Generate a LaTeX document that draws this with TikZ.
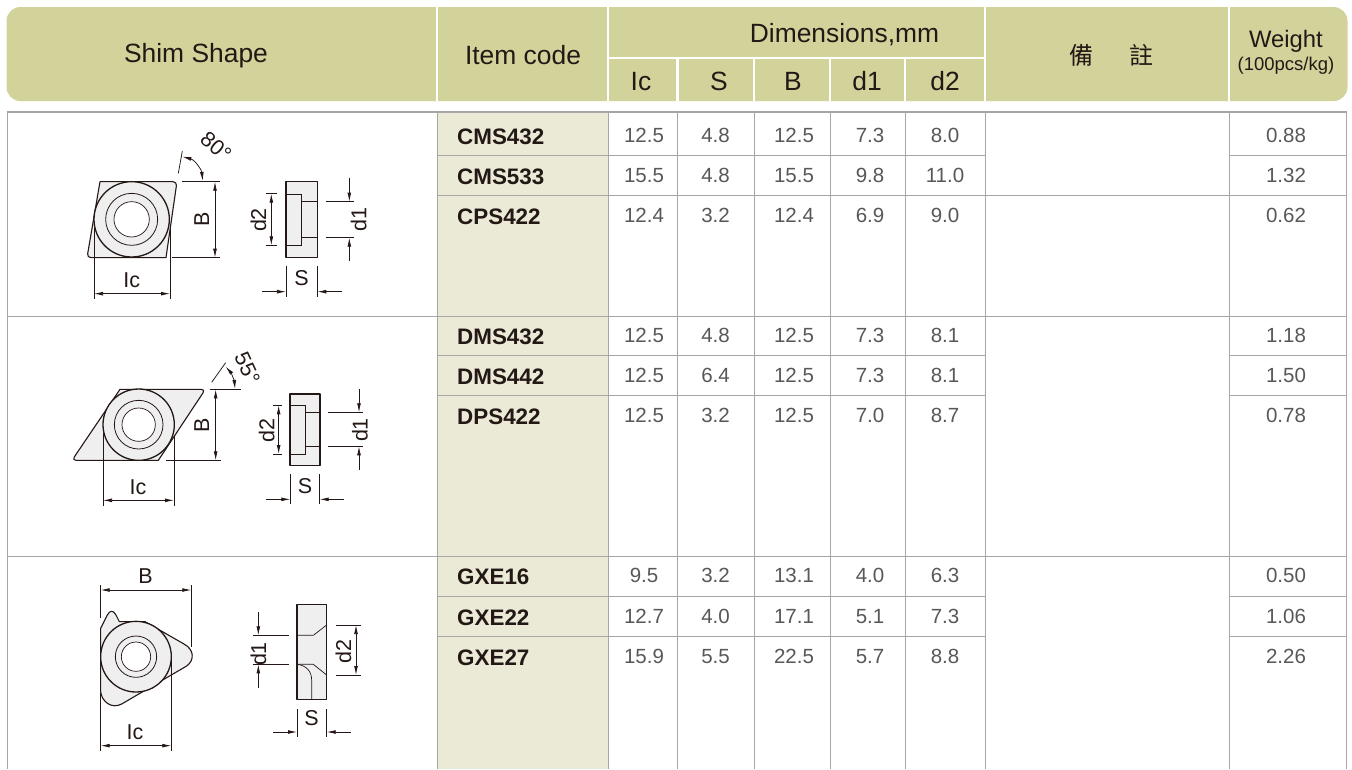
\documentclass[tikz,border=0pt]{standalone}
\usepackage{fontspec}
\setmainfont{Liberation Sans}
\newfontfamily\cjk{Noto Sans CJK TC}
\usetikzlibrary{arrows.meta}
\definecolor{headfill}{HTML}{D2D29B}
\definecolor{codefill}{HTML}{EAEAD6}
\definecolor{gridgray}{HTML}{A6A6A6}
\definecolor{inkdark}{HTML}{231815}
\definecolor{datagray}{HTML}{595757}
\definecolor{partfill}{HTML}{EFEFEF}
\tikzset{
  sz/.style={font=\fontsize{#1pt}{#1pt}\selectfont},
  headtext/.style={sz=26.4,text=inkdark,anchor=base,inner sep=0pt},
  codetext/.style={sz=22.4,text=inkdark,anchor=base west,inner sep=0pt},
  datatext/.style={sz=20.5,text=datagray,anchor=base,inner sep=0pt},
  dimtext/.style={sz=21.5,text=inkdark,inner sep=0pt},
  gridline/.style={draw=gridgray,line width=1pt},
  sep/.style={draw=white,line width=2.4pt},
  zoomed/.style 2 args={shift={(#1,#2)},x=0.33333pt,y=-0.33333pt},
  part/.style={draw=inkdark,fill=partfill,line width=1.1pt,line join=round},
  thin part/.style={draw=inkdark,line width=0.7pt},
  ext/.style={draw=inkdark,line width=0.75pt},
  dima/.style={draw=inkdark,line width=0.75pt,{Latex[length=9pt,width=3.8pt]}-{Latex[length=9pt,width=3.8pt]}},
  dimo/.style={draw=inkdark,line width=0.75pt,-{Latex[length=9pt,width=3.8pt]}},
}
\newcommand{\insertdisc}[4]{%
  \fill[partfill] (#1,#2) circle[radius=#3];
  \draw[inkdark,line width=1.3pt] (#1,#2) circle[radius=#3];
  \draw[thin part,line width=0.8pt] (#1,#2) circle[radius=#4];
}
\begin{document}
\begin{tikzpicture}[x=1pt,y=-1pt]
\useasboundingbox (0,0) rectangle (1352,769);
\fill[white] (0,0) rectangle (1352,769);
% header band
\fill[headfill,rounded corners=14pt] (6.5,7) rectangle (1347.5,101);
\foreach \sx in {437,608,985,1229} \draw[sep] (\sx,7) -- (\sx,101);
\draw[sep] (608,58) -- (985,58);
\foreach \sx in {677.5,754,830,905} \draw[sep] (\sx,58) -- (\sx,101);
\node[headtext] (hshape) at (196,62) {Shim Shape};
\node[headtext] (hitem) at (523,64) {Item code};
\node[headtext] (hdim) at (844.5,42) {Dimensions,mm};
\node[headtext] (hic) at (641,90) {Ic};
\node[headtext] (hs) at (719,90) {S};
\node[headtext] (hb) at (793,90) {B};
\node[headtext] (hda) at (867,90) {d1};
\node[headtext] (hdb) at (945,90) {d2};
\node[sz=24,text=inkdark,inner sep=0pt] (hnotea) at (1081,55) {\cjk 備};
\node[sz=24,text=inkdark,inner sep=0pt] (hnoteb) at (1141,55) {\cjk 註};
\node[sz=23.8,text=inkdark,anchor=base,inner sep=0pt] (hweight) at (1286,47) {Weight};
\node[sz=18.5,text=inkdark,anchor=base,inner sep=0pt] (hpcs) at (1286,70) {(100pcs/kg)};
% table body
\fill[codefill] (437.5,112) rectangle (608.5,769);
\draw[gridline,line width=1.4pt] (7,112) -- (1346.5,112);
\foreach \sx in {7,437.5,608.5,677.5,754,830,905,985.5,1229,1346.5}
  \draw[gridline] (\sx,112) -- (\sx,769);
\foreach \sy in {316,556} \draw[gridline] (7,\sy) -- (1346.5,\sy);
\draw[gridline] (437.5,195.5) -- (1346.5,195.5);
\foreach \sy in {155.5,355.5,395.5,596,636} {
  \draw[gridline] (437.5,\sy) -- (985.5,\sy);
  \draw[gridline] (1229,\sy) -- (1346.5,\sy);
}
\foreach \ry/\rc/\va/\vb/\vc/\vd/\ve/\vw in {
  142/CMS432/12.5/4.8/12.5/7.3/8.0/0.88,
  182/CMS533/15.5/4.8/15.5/9.8/11.0/1.32,
  222/CPS422/12.4/3.2/12.4/6.9/9.0/0.62,
  342/DMS432/12.5/4.8/12.5/7.3/8.1/1.18,
  382/DMS442/12.5/6.4/12.5/7.3/8.1/1.50,
  422/DPS422/12.5/3.2/12.5/7.0/8.7/0.78,
  582/GXE16/9.5/3.2/13.1/4.0/6.3/0.50,
  623/GXE22/12.7/4.0/17.1/5.1/7.3/1.06,
  663/GXE27/15.9/5.5/22.5/5.7/8.8/2.26}
{
  \node[codetext] (code\rc) at (457,\ry+2) {\textbf{\rc}};
  \node[datatext] (ic\rc) at (644,\ry) {\va};
  \node[datatext] (s\rc) at (715.5,\ry) {\vb};
  \node[datatext] (b\rc) at (794,\ry) {\vc};
  \node[datatext] (da\rc) at (870,\ry) {\vd};
  \node[datatext] (db\rc) at (945,\ry) {\ve};
  \node[datatext] (w\rc) at (1286,\ry) {\vw};
}
% shape 1
\begin{scope}[zoomed={60}{115}]
  \draw[part] (120,200) [rounded corners=4pt] -- (351,200) [sharp corners] -- (318,428) [rounded corners=4pt] -- (81,428) [sharp corners] -- cycle;
  \insertdisc{215}{313}{113}{78}
  \draw[thin part,fill=white] (215,313) circle[radius=53];
  \draw[ext] (102,340) -- (102,551);
  \draw[ext] (330,340) -- (330,551);
  \draw[dima] (102,536) -- (330,536);
  \node[dimtext] (iclabela) at (215,497) {Ic};
  \draw[ext] (366,200) -- (481,200);
  \draw[ext] (337,428) -- (481,428);
  \draw[dima] (465,200) -- (465,428);
  \node[dimtext,rotate=90] (blabela) at (425,313) {B};
  \draw[ext] (367,108) -- (355,175);
  \draw[dima] (367,125) .. controls (405,135) and (425,165) .. (428,198);
  \node[dimtext,rotate=-40] (anglea) at (468,95) {80°};
  \draw[part] (678,200) rectangle (772,428);
  \draw[thin part] (678,237) -- (725,237) -- (725,391) -- (678,391);
  \draw[thin part] (725,260) -- (772,260);
  \draw[thin part] (725,368) -- (772,368);
  \draw[ext] (618,236) -- (652,236);
  \draw[ext] (618,391) -- (652,391);
  \draw[dima] (634,236) -- (634,391);
  \node[dimtext,rotate=90] (dblabela) at (595,315) {d2};
  \draw[ext] (798,260) -- (883,260);
  \draw[ext] (798,368) -- (883,368);
  \draw[dimo] (868,188) -- (868,260);
  \draw[dimo] (868,438) -- (868,368);
  \node[dimtext,rotate=90] (dalabela) at (896,313) {d1};
  \draw[ext] (678,453) -- (678,545);
  \draw[ext] (772,453) -- (772,545);
  \draw[dimo] (606,530) -- (678,530);
  \draw[dimo] (845,530) -- (772,530);
  \node[dimtext] (slabela) at (725,490) {S};
\end{scope}
% shape 2
\begin{scope}[zoomed={60}{340}]
  \draw[part] (180,148) [rounded corners=4pt] -- (436,148) [sharp corners] -- (295,361) [rounded corners=4pt] -- (36,361) [sharp corners] -- cycle;
  \insertdisc{236}{254}{107}{73}
  \draw[thin part,fill=white] (236,254) circle[radius=50];
  \draw[ext] (129,280) -- (129,497);
  \draw[ext] (342,285) -- (342,497);
  \draw[dima] (129,481) -- (342,481);
  \node[dimtext] (iclabelb) at (234,442) {Ic};
  \draw[ext] (450,148) -- (542,148);
  \draw[ext] (318,361) -- (482,361);
  \draw[dima] (467,148) -- (467,361);
  \node[dimtext,rotate=90] (blabelb) at (425,256) {B};
  \draw[ext] (455,127) -- (497,68);
  \draw[dima] (497,80) .. controls (513,98) and (523,122) .. (525,147);
  \node[dimtext,rotate=-65] (angleb) at (562,85) {55°};
  \draw[part] (690,162) rectangle (780,376);
  \draw[thin part] (690,196) -- (736,196) -- (736,342) -- (690,342);
  \draw[thin part] (736,217) -- (780,217);
  \draw[thin part] (736,319) -- (780,319);
  \draw[ext] (640,196) -- (665,196);
  \draw[ext] (640,342) -- (665,342);
  \draw[dima] (656,196) -- (656,342);
  \node[dimtext,rotate=90] (dblabelb) at (620,272) {d2};
  \draw[ext] (805,217) -- (910,217);
  \draw[ext] (805,319) -- (910,319);
  \draw[dimo] (897,147) -- (897,217);
  \draw[dimo] (897,390) -- (897,319);
  \node[dimtext,rotate=90] (dalabelb) at (900,270) {d1};
  \draw[ext] (691,402) -- (691,492);
  \draw[ext] (779,402) -- (779,492);
  \draw[dimo] (618,478) -- (691,478);
  \draw[dimo] (852,478) -- (779,478);
  \node[dimtext] (slabelb) at (735,437) {S};
\end{scope}
% shape 3
\begin{scope}[zoomed={80}{560}]
  \draw[part] (62,205) -- (82,165) .. controls (90,150) and (100,150) .. (108,165) -- (118,185) -- (195,185) -- (312,252) .. controls (342,268) and (345,300) .. (320,318) -- (125,432) .. controls (95,448) and (65,425) .. (62,395) -- cycle;
  \insertdisc{168}{290}{106}{62}
  \draw[thin part,fill=white] (168,290) circle[radius=44];
  \draw[ext] (62,75) -- (62,175);
  \draw[ext] (334,75) -- (334,262);
  \draw[dima] (62,90) -- (334,90);
  \node[dimtext] (blabelc) at (197,48) {B};
  \draw[ext] (62,400) -- (62,573);
  \draw[ext] (274,300) -- (274,573);
  \draw[dima] (62,557) -- (274,557);
  \node[dimtext] (iclabelc) at (165,518) {Ic};
  \draw[part] (651,134) rectangle (740,419);
  \draw[thin part] (651,226) -- (700,226) -- (740,195);
  \draw[thin part] (651,313) -- (700,313) -- (740,345);
  \draw[thin part] (651,313) .. controls (680,316) and (695,335) .. (695,360) -- (695,419);
  \draw[ext] (520,226) -- (626,226);
  \draw[ext] (520,313) -- (626,313);
  \draw[dimo] (535,155) -- (535,226);
  \draw[dimo] (535,385) -- (535,313);
  \node[dimtext,rotate=90] (dalabelc) at (535,282) {d1};
  \draw[ext] (768,195) -- (843,195);
  \draw[ext] (768,345) -- (843,345);
  \draw[dima] (828,195) -- (828,345);
  \node[dimtext,rotate=90] (dblabelc) at (790,275) {d2};
  \draw[ext] (651,448) -- (651,530);
  \draw[ext] (740,448) -- (740,530);
  \draw[dimo] (579,516) -- (651,516);
  \draw[dimo] (812,516) -- (740,516);
  \node[dimtext] (slabelc) at (695,473) {S};
\end{scope}
\end{tikzpicture}
\end{document}
